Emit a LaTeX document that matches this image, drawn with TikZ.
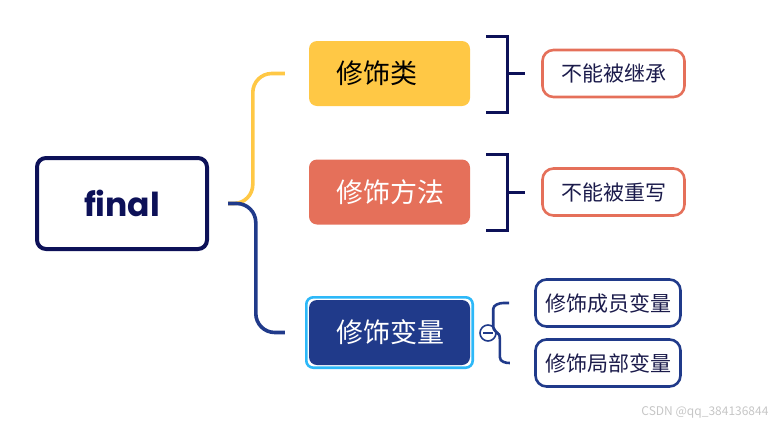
\documentclass[tikz,border=0pt]{standalone}
\usepackage{fontspec}
\newfontfamily\cjk{Noto Sans CJK SC}
\newfontfamily\latinfont{Poppins}
\usepackage{tikz}
\usetikzlibrary{
	calc,
	positioning,
	fit,
	}
\definecolor{navy}{HTML}{0D1158}
\definecolor{yel}{HTML}{FFC845}
\definecolor{sal}{HTML}{E5705A}
\definecolor{blu}{HTML}{203A8A}
\definecolor{sky}{HTML}{2DB8F8}
\definecolor{leaftext}{HTML}{1B1B4B}

\begin{document}
\begin{tikzpicture}[x=1pt, y=-1pt,
	rootbox/.style={draw=navy, line width=4pt, rounded corners=9pt, minimum width=170pt, minimum height=91pt, inner sep=0pt, text=navy, font=\latinfont\bfseries\fontsize{33}{36}\selectfont},
	mainbox/.style={rounded corners=8pt, minimum width=161pt, minimum height=65pt, inner sep=0pt, text width=107pt, align=left, font=\cjk\fontsize{27}{30}\selectfont},
	leafbox/.style={draw=#1, line width=2.6pt, rounded corners=11pt, minimum width=142pt, minimum height=47pt, inner sep=0pt, text=leaftext, font=\cjk\fontsize{21}{24}\selectfont},
	]
	\useasboundingbox (0,0) rectangle (784,426);

	\node[rootbox] (0) at (122,203.5) {final};
	\node[mainbox, fill=yel, text=black] (1) at (389.5,73.5) {修饰类};
	\node[mainbox, fill=sal, text=white] (2) at (389.5,192) {修饰方法};
	\node[mainbox, fill=blu, text=white] (3) at (389.5,332.5) {修饰变量};
	\node[fit=(3), inner sep=2.5pt, draw=sky, line width=2.6pt, rounded corners=7pt] (3s) {};

	\node[leafbox=sal] (4) at (613.5,73.5) {不能被继承};
	\node[leafbox=sal] (5) at (613.5,192) {不能被重写};
	\node[leafbox=blu, minimum width=145pt] (6) at (608,303) {修饰成员变量};
	\node[leafbox=blu, minimum width=145pt] (7) at (608,363) {修饰局部变量};

	\node[circle, draw=blu, line width=1.6pt, minimum size=16pt, inner sep=0pt] (c) at (488,333) {};
	\draw[blu, line width=1.6pt] ([xshift=-5pt]c.center) -- ([xshift=5pt]c.center);

	% branches from the root
	\coordinate (r) at ([xshift=19pt]0.east);
	\coordinate (e1) at ([xshift=-24pt]1.west);
	\coordinate (e3) at ([xshift=-24pt]3.west);
	\draw[yel, line width=3.6pt, rounded corners=19pt] (r) -| ([xshift=-32pt]e1) -- (e1);
	\draw[blu, line width=3.6pt, rounded corners=19pt] (r) -| ([xshift=-29pt]e3) -- (e3);

	% brackets
	\draw[navy, line width=3pt] ([shift={(16pt,37.5pt)}]1.east) -| ([shift={(37pt,-38.5pt)}]1.east) -- ++(-21,0);
	\draw[navy, line width=3pt] ([xshift=37pt]1.east) -- ([xshift=-16pt]4.west);
	\draw[navy, line width=3pt] ([shift={(16pt,38pt)}]2.east) -| ([shift={(37pt,-38pt)}]2.east) -- ++(-21,0);
	\draw[navy, line width=3pt] ([xshift=37pt]2.east) -- ([xshift=-16pt]5.west);

	% brace of the variables
	\draw[blu, line width=2.6pt] ([xshift=-25pt]6.west) -- ++(-6,0) .. controls +(-4,0) and +(0,-4) .. ++(-10,6) -- ++(0,18)
		.. controls +(0,4) and +(2,0) .. (c.east) .. controls +(2,0) and +(0,-4) .. ++(3,6) -- ++(0,18)
		.. controls +(0,5) and +(-4,0) .. ++(10,6) -- ([xshift=-25pt]7.west);

	\node[text=gray!45, font=\cjk\fontsize{12}{14}\selectfont, anchor=east] (w) at (772,412) {CSDN @qq\_384136844};
\end{tikzpicture}
\end{document}
